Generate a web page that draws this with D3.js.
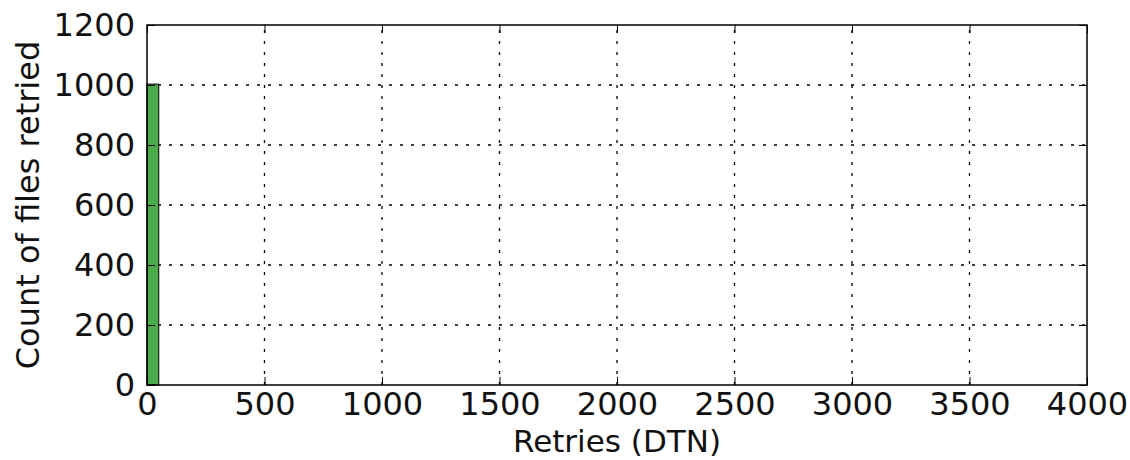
<!DOCTYPE html>
<html>
<head>
<meta charset="utf-8">
<script src="https://cdn.jsdelivr.net/npm/d3@7"></script>
<style>
  body { margin: 0; background: #fff; }
  svg text { font-family: "DejaVu Sans", sans-serif; fill: #111; }
</style>
</head>
<body>
<div id="chart"></div>
<script>
// histogram bins: [start, end] of retries, and file counts
const binStarts = [0];
const binEnds = [50];
const binCounts = [1003];
const xTicks = [0, 500, 1000, 1500, 2000, 2500, 3000, 3500, 4000];
const yTicks = [0, 200, 400, 600, 800, 1000, 1200];

const width = 1130;
const height = 460;
const margin = { top: 25, right: 43, bottom: 75, left: 147 };
const fontSize = 32;

const svg = d3.select('#chart')
  .append('svg')
  .attr('width', width)
  .attr('height', height);

const x = d3.scaleLinear()
  .domain([0, 4000])
  .range([margin.left, width - margin.right]);

const y = d3.scaleLinear()
  .domain([0, 1200])
  .range([height - margin.bottom, margin.top]);

// grid
svg.append('g')
  .selectAll('line.gx')
  .data(xTicks.slice(1, -1))
  .enter().append('line')
  .attr('x1', d => x(d)).attr('x2', d => x(d))
  .attr('y1', y(0)).attr('y2', y(1200))
  .attr('stroke', '#000').attr('stroke-width', 1.3)
  .attr('stroke-dasharray', '3,8');

svg.append('g')
  .selectAll('line.gy')
  .data(yTicks.slice(1, -1))
  .enter().append('line')
  .attr('x1', x(0)).attr('x2', x(4000))
  .attr('y1', d => y(d)).attr('y2', d => y(d))
  .attr('stroke', '#000').attr('stroke-width', 1.3)
  .attr('stroke-dasharray', '3,8');

// bars
svg.append('g')
  .selectAll('rect')
  .data(binCounts)
  .enter().append('rect')
  .attr('x', (d, i) => x(binStarts[i]))
  .attr('y', d => y(d))
  .attr('width', (d, i) => x(binEnds[i]) - x(binStarts[i]))
  .attr('height', d => y(0) - y(d))
  .attr('fill', '#4aab4a')
  .attr('stroke', '#000')
  .attr('stroke-width', 1);

// axes with inward ticks
function styleAxis(g) {
  g.select('.domain').remove();
  g.selectAll('.tick line').attr('stroke', '#000').attr('stroke-width', 1);
  g.selectAll('.tick text')
    .attr('font-size', fontSize + 'px')
    .attr('font-family', '"DejaVu Sans", sans-serif')
    .attr('fill', '#111');
}

svg.append('g')
  .attr('transform', `translate(0,${y(0)})`)
  .call(d3.axisBottom(x).tickValues(xTicks).tickSize(-8).tickPadding(7).tickFormat(d3.format('d')))
  .call(styleAxis);

svg.append('g')
  .attr('transform', `translate(0,${y(1200)})`)
  .call(d3.axisTop(x).tickValues(xTicks).tickSize(-8).tickFormat(''))
  .call(styleAxis);

svg.append('g')
  .attr('transform', `translate(${x(0)},0)`)
  .call(d3.axisLeft(y).tickValues(yTicks).tickSize(-8).tickPadding(12).tickFormat(d3.format('d')))
  .call(styleAxis);

svg.append('g')
  .attr('transform', `translate(${x(4000)},0)`)
  .call(d3.axisRight(y).tickValues(yTicks).tickSize(-8).tickFormat(''))
  .call(styleAxis);

// frame
svg.append('rect')
  .attr('x', x(0)).attr('y', y(1200))
  .attr('width', x(4000) - x(0)).attr('height', y(0) - y(1200))
  .attr('fill', 'none').attr('stroke', '#000').attr('stroke-width', 1.5);

// labels
svg.append('text')
  .attr('x', (x(0) + x(4000)) / 2)
  .attr('y', height - 8)
  .attr('text-anchor', 'middle')
  .attr('font-size', '31px')
  .text('Retries (DTN)');

svg.append('text')
  .attr('transform', `translate(39,${(y(0) + y(1200)) / 2}) rotate(-90)`)
  .attr('text-anchor', 'middle')
  .attr('font-size', fontSize + 'px')
  .text('Count of files retried');
</script>
</body>
</html>
